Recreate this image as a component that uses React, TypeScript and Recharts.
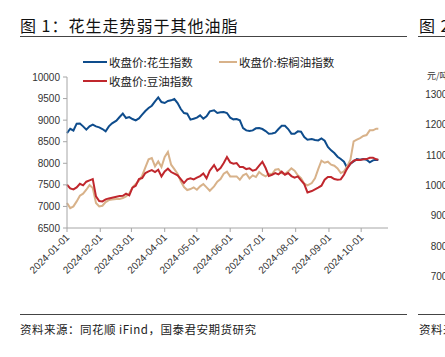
import React from "react";
import { LineChart, Line, XAxis, YAxis } from "recharts";

const dates = [
  "2024-01-01","2024-01-04","2024-01-07","2024-01-10","2024-01-13","2024-01-16","2024-01-19","2024-01-22","2024-01-25","2024-01-28",
  "2024-01-31","2024-02-03","2024-02-06","2024-02-09","2024-02-12","2024-02-16","2024-02-19","2024-02-22","2024-02-25","2024-02-28",
  "2024-03-02","2024-03-05","2024-03-08","2024-03-11","2024-03-14","2024-03-17","2024-03-20","2024-03-23","2024-03-26","2024-03-29",
  "2024-04-01","2024-04-04","2024-04-07","2024-04-10","2024-04-13","2024-04-16","2024-04-19","2024-04-22","2024-04-25","2024-04-28",
  "2024-05-01","2024-05-04","2024-05-07","2024-05-10","2024-05-13","2024-05-17","2024-05-20","2024-05-23","2024-05-26","2024-05-29",
  "2024-06-01","2024-06-04","2024-06-07","2024-06-10","2024-06-13","2024-06-16","2024-06-19","2024-06-22","2024-06-25","2024-06-28",
  "2024-07-01","2024-07-04","2024-07-07","2024-07-10","2024-07-13","2024-07-16","2024-07-19","2024-07-22","2024-07-25","2024-07-28",
  "2024-07-31","2024-08-03","2024-08-06","2024-08-09","2024-08-12","2024-08-16","2024-08-19","2024-08-22","2024-08-25","2024-08-28",
  "2024-08-31","2024-09-03","2024-09-06","2024-09-09","2024-09-12","2024-09-15","2024-09-18","2024-09-21","2024-09-24","2024-09-27",
  "2024-09-30","2024-10-03","2024-10-06","2024-10-09","2024-10-12","2024-10-15","2024-10-17",
];

const peanut = [
  8701, 8800, 8760, 8918, 8920, 8856, 8779, 8856, 8895, 8856,
  8833, 8795, 8740, 8856, 8925, 8987, 9072, 9150, 9049, 9072,
  9026, 8995, 9041, 9127, 9212, 9281, 9335, 9436, 9528, 9420,
  9397, 9444, 9459, 9490, 9397, 9258, 9165, 9150, 9011, 9034,
  9057, 9111, 9034, 9088, 9204, 9227, 9165, 9181, 9188, 9165,
  9057, 9018, 9026, 8995, 8817, 8763, 8747, 8763, 8810, 8817,
  8794, 8747, 8686, 8693, 8709, 8794, 8871, 8871, 8794, 8686,
  8686, 8740, 8732, 8608, 8547, 8562, 8539, 8531, 8578, 8524,
  8377, 8299, 8238, 8152, 8098, 8036, 7890, 7990, 8044, 8098,
  8083, 8098, 8083, 8021, 8067, 8083, 8075,
];

const palm = [
  7078, 6962, 7001, 7117, 7248, 7295, 7387, 7495, 7426, 7078,
  7001, 7016, 7101, 7148, 7163, 7171, 7171, 7194, 7233, 7302,
  7442, 7519, 7596, 7712, 7905, 8091, 8122, 7928, 8044, 7913,
  8145, 8260, 7967, 7866, 7758, 7581, 7449, 7380, 7403, 7442,
  7387, 7465, 7519, 7442, 7364, 7465, 7573, 7635, 7758, 7805,
  7696, 7696, 7696, 7619, 7720, 7758, 7650, 7720, 7681, 7797,
  7735, 7696, 7758, 7751, 7851, 7866, 7774, 7751, 7812, 7882,
  7828, 7720, 7658, 7526, 7488, 7542, 7650, 7866, 8060, 8013,
  8036, 7967, 7944, 7882, 7774, 7812, 7928, 8083, 8508, 8547,
  8585, 8632, 8655, 8763, 8763, 8802, 8800,
];

const soy = [
  7503, 7418, 7395, 7442, 7526, 7488, 7573, 7604, 7635, 7233,
  7124, 7117, 7163, 7186, 7202, 7225, 7240, 7248, 7295, 7256,
  7434, 7480, 7635, 7658, 7774, 7812, 7843, 7797, 7851, 7696,
  7812, 7874, 7797, 7758, 7720, 7635, 7542, 7627, 7650, 7627,
  7666, 7704, 7766, 7650, 7828, 7959, 7828, 7890, 8006, 8145,
  8021, 7990, 8006, 7913, 7913, 7866, 7882, 7828, 7851, 7944,
  8036, 7890, 7704, 7735, 7774, 7743, 7805, 7735, 7774, 7704,
  7666, 7696, 7604, 7519, 7325, 7356, 7395, 7434, 7480, 7619,
  7681, 7681, 7635, 7619, 7627, 7735, 7882, 7990, 8060, 8083,
  8075, 8091, 8098, 8129, 8129, 8091, 8085,
];

const monthTicks = [
  "2024-01-01","2024-02-01","2024-03-01","2024-04-01","2024-05-01",
  "2024-06-01","2024-07-01","2024-08-01","2024-09-01","2024-10-01",
];
const axisEnd = "2024-10-26";
const yTicks = [6500, 7000, 7500, 8000, 8500, 9000, 9500, 10000];

const seriesNames = ["收盘价:花生指数", "收盘价:棕榈油指数", "收盘价:豆油指数"];
const titleText = "图 1：花生走势弱于其他油脂";
const sourceText = "资料来源：同花顺 iFind，国泰君安期货研究";
const nextTitle = "图 2";
const nextUnit = "元/吨";
const nextTicks = ["13000", "12000", "11000", "10000", "9000", "8000", "7000"];

const COLORS = { peanut: "#0E4C8C", palm: "#D8B28A", soy: "#C0272D" };
const CJK = '"Noto Sans CJK SC", "Noto Sans", sans-serif';
const LATIN = '"Liberation Sans", Arial, sans-serif';

const toDay = (s: string) => {
  const [y, m, d] = s.split("-").map(Number);
  return (Date.UTC(y, m - 1, d) - Date.UTC(2024, 0, 1)) / 86400000;
};
const dayToLabel = (v: number) => {
  const dt = new Date(Date.UTC(2024, 0, 1) + v * 86400000);
  const mm = String(dt.getUTCMonth() + 1).padStart(2, "0");
  const dd = String(dt.getUTCDate()).padStart(2, "0");
  return `${dt.getUTCFullYear()}-${mm}-${dd}`;
};

const data = dates.map((d, i) => ({
  day: toDay(d),
  peanut: peanut[i],
  palm: palm[i],
  soy: soy[i],
}));

const XTick = (props: any) => {
  const { x, y, payload } = props;
  return (
    <text
      x={x + 3}
      y={y + 4}
      transform={`rotate(-45 ${x + 3} ${y + 4})`}
      textAnchor="end"
      fontSize={10}
      fill="#333"
      fontFamily={LATIN}
    >
      {dayToLabel(payload.value)}
    </text>
  );
};

const legendItems = [
  { name: seriesNames[0], color: COLORS.peanut, left: 83, top: 62, sw: 24 },
  { name: seriesNames[1], color: COLORS.palm, left: 219, top: 62, sw: 18 },
  { name: seriesNames[2], color: COLORS.soy, left: 83, top: 81, sw: 24 },
];

export default function App() {
  return (
    <div
      style={{
        position: "absolute",
        left: 0,
        top: 0,
        width: 445,
        height: 357,
        background: "#fff",
        overflow: "hidden",
        fontFamily: CJK,
      }}
    >
      <div style={{ position: "absolute", left: 20, top: 15, fontSize: 16, lineHeight: "20px", letterSpacing: 1, color: "#111", whiteSpace: "nowrap" }}>
        {titleText}
      </div>
      <div style={{ position: "absolute", left: 20, top: 36, width: 387, height: 1, background: "#444" }} />
      <div style={{ position: "absolute", left: 419, top: 15, fontSize: 16, lineHeight: "20px", letterSpacing: 1, color: "#111", whiteSpace: "nowrap" }}>
        {nextTitle}
      </div>
      <div style={{ position: "absolute", left: 418, top: 36, width: 40, height: 1, background: "#444" }} />
      <div style={{ position: "absolute", left: 427, top: 70, fontSize: 9, lineHeight: "12px", color: "#333", whiteSpace: "nowrap" }}>
        {nextUnit}
      </div>
      {nextTicks.map((t, i) => (
        <div
          key={t}
          style={{
            position: "absolute",
            left: 413,
            width: 40,
            textAlign: "right",
            top: 89 + i * 30.3,
            fontSize: 10,
            lineHeight: "12px",
            color: "#333",
            fontFamily: LATIN,
          }}
        >
          {t}
        </div>
      ))}

      <LineChart
        width={445}
        height={357}
        data={data}
        margin={{ top: 77, right: 57, bottom: 69, left: 7 }}
        style={{ position: "absolute", left: 0, top: 0 }}
      >
        <XAxis
          dataKey="day"
          type="number"
          domain={[0, toDay(axisEnd)]}
          ticks={monthTicks.map(toDay)}
          tick={<XTick />}
          tickSize={4}
          tickMargin={2}
          height={60}
          interval={0}
          stroke="#A6A6A6"
          axisLine={{ stroke: "#A6A6A6" }}
          tickLine={{ stroke: "#A6A6A6" }}
        />
        <YAxis
          type="number"
          domain={[6500, 10000]}
          ticks={yTicks}
          interval={0}
          width={60}
          tickSize={4}
          tickMargin={3}
          stroke="#A6A6A6"
          tick={{ fontSize: 10, fill: "#333", fontFamily: LATIN }}
        />
        <Line type="linear" dataKey="peanut" name={seriesNames[0]} stroke={COLORS.peanut} strokeWidth={2} dot={false} isAnimationActive={false} />
        <Line type="linear" dataKey="palm" name={seriesNames[1]} stroke={COLORS.palm} strokeWidth={2} dot={false} isAnimationActive={false} />
        <Line type="linear" dataKey="soy" name={seriesNames[2]} stroke={COLORS.soy} strokeWidth={2} dot={false} isAnimationActive={false} />
      </LineChart>

      {legendItems.map((it) => (
        <div key={it.name} style={{ position: "absolute", left: it.left, top: it.top - 8, height: 16, display: "flex", alignItems: "center", whiteSpace: "nowrap" }}>
          <div style={{ width: it.sw, height: 2, background: it.color, marginRight: 2 }} />
          <span style={{ fontSize: 11.5, lineHeight: "16px", color: "#222" }}>{it.name}</span>
        </div>
      ))}

      <div style={{ position: "absolute", left: 20, top: 314, width: 387, height: 1, background: "#444" }} />
      <div style={{ position: "absolute", left: 20, top: 321, fontSize: 11.5, lineHeight: "16px", letterSpacing: 0.5, color: "#222", whiteSpace: "nowrap" }}>
        {sourceText}
      </div>
      <div style={{ position: "absolute", left: 418, top: 314, width: 40, height: 1, background: "#444" }} />
      <div style={{ position: "absolute", left: 419, top: 321, fontSize: 11.5, lineHeight: "16px", letterSpacing: 0.5, color: "#222", whiteSpace: "nowrap" }}>
        {sourceText}
      </div>
    </div>
  );
}
